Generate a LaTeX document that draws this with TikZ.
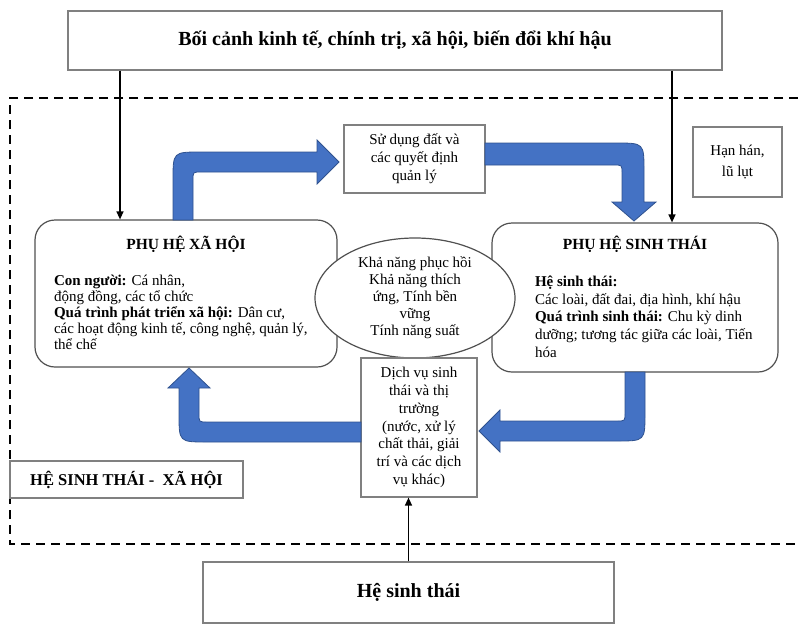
\documentclass[tikz,border=0pt]{standalone}
\usepackage{fontspec}
\setmainfont{Liberation Serif}
\usetikzlibrary{arrows.meta,shapes.geometric}

\definecolor{boxgray}{RGB}{128,128,128}
\definecolor{subgray}{RGB}{80,80,80}
\definecolor{arrowblue}{RGB}{68,114,196}
\definecolor{arrowedge}{RGB}{47,82,143}

\begin{document}
\begin{tikzpicture}[x=1pt, y=-1pt, line width=1.2pt,
  every node/.style={font=\fontsize{15}{17.8}\selectfont, inner sep=0pt},
  box/.style={draw=boxgray, fill=white, align=center},
  subsys/.style={draw=subgray, fill=white, rounded corners=20},
  heading/.style={font=\bfseries\fontsize{15.5}{17}\selectfont},
  bigtitle/.style={font=\bfseries\fontsize{20}{22}\selectfont},
  bigarrow/.style={fill=arrowblue, draw=arrowedge, line width=0.8pt},
  feed/.style={black, line width=1.3pt, -{Triangle[length=8pt,width=7pt]}}]{
    \useasboundingbox (0,0) rectangle (798,624);

    \node [box, minimum width=654, minimum height=59, bigtitle] (ctx) at (395,40.5) {Bối cảnh kinh tế, chính trị, xã hội, biến đổi khí hậu};
    \draw [line width=2pt, dash pattern=on 9pt off 6pt] (798,98) -- (10,98) -- (10,544) -- (798,544);

    \node [box, minimum width=89, minimum height=70] (hazard) at (737.5,162) {Hạn hán,\\[4pt]lũ lụt};
    \node [box, minimum width=141, minimum height=68, font=\fontsize{15}{18}\selectfont] (land) at (414.5,159) {Sử dụng đất và\\các quyết định\\quản lý};

    \node [subsys, minimum width=302, minimum height=147] (soc) at (186,293.5) {};
    \node [heading] (soctitle) at ([yshift=-25]soc.north) {PHỤ HỆ XÃ HỘI};
    \node [anchor=north west, align=left, font=\fontsize{15}{16}\selectfont] (socbody) at ([xshift=19,yshift=-55]soc.north west) {\textbf{Con người:} Cá nhân,\\động đồng, các tổ chức\\\textbf{Quá trình phát triển xã hội:} Dân cư,\\các hoạt động kinh tế, công nghệ, quản lý,\\thể chế};

    \node [subsys, minimum width=286, minimum height=149] (eco) at (635,297.5) {};
    \node [heading] (ecotitle) at ([yshift=-22]eco.north) {PHỤ HỆ SINH THÁI};
    \node [anchor=north west, align=left, font=\fontsize{15}{17.7}\selectfont] (ecobody) at ([xshift=43,yshift=-53]eco.north west) {\textbf{Hệ sinh thái:}\\Các loài, đất đai, địa hình, khí hậu\\\textbf{Quá trình sinh thái:} Chu kỳ dinh\\dưỡng; tương tác giữa các loài, Tiến\\hóa};

    \node [ellipse, draw=subgray, fill=white, minimum width=200, minimum height=120, align=center, font=\fontsize{15}{17}\selectfont] (resil) at (415,298) {Khả năng phục hồi\\Khả năng thích\\ứng, Tính bền\\vững\\Tính năng suất};
    \node [box, minimum width=116, minimum height=139] (serv) at (419,427.5) {Dịch vụ sinh\\thái và thị\\trường\\(nước, xử lý\\chất thải, giải\\trí và các dịch\\vụ khác)};

    \node [box, minimum width=233, minimum height=37, font=\bfseries\fontsize{16.5}{18}\selectfont] (frame) at (126.5,479.5) {HỆ SINH THÁI -\ \ XÃ HỘI};
    \node [box, minimum width=411, minimum height=61, bigtitle] (hst) at (408.5,592.5) {Hệ sinh thái};

    \draw [bigarrow] (173,220) -- (173,180) .. controls (173,152) .. (201,152) -- (317,152) -- (317,140) -- (339,162) -- (317,184) -- (317,172) -- (201,172) .. controls (193,172) .. (193,180) -- (193,220) -- cycle;
    \draw [bigarrow] (485,143) -- (616,143) .. controls (644,143) .. (644,171) -- (644,202) -- (656,202) -- (634,221) -- (612,202) -- (622,202) -- (622,173) .. controls (622,165) .. (614,165) -- (485,165) -- cycle;
    \draw [bigarrow] (625,372) -- (625,413) .. controls (625,421) .. (617,421) -- (500,421) -- (500,410) -- (479,431) -- (500,452) -- (500,441) -- (617,441) .. controls (645,441) .. (645,413) -- (645,372) -- cycle;
    \draw [bigarrow] (361,422) -- (207,422) .. controls (199,422) .. (199,414) -- (199,388) -- (210,388) -- (189,368) -- (168,388) -- (179,388) -- (179,414) .. controls (179,442) .. (207,442) -- (361,442) -- cycle;

    \path [feed] ([xshift=-275]ctx.south) edge ([xshift=-275]ctx.south |- soc.north);
    \path [feed] ([xshift=277]ctx.south) edge ([xshift=277]ctx.south |- eco.north);
    \path [feed] (hst) edge (hst.north |- serv.south);
    }
\end{tikzpicture}
\end{document}
